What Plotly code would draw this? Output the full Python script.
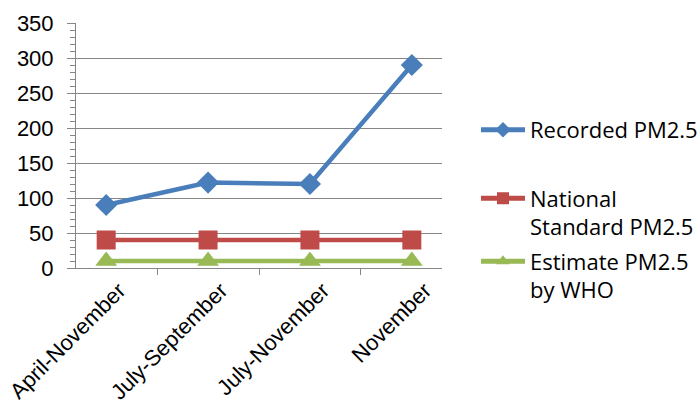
import plotly.graph_objects as go

categories = ["April-November", "July-September", "July-November", "November"]
recorded = [90, 122, 120, 290]
national = [40, 40, 40, 40]
who = [10, 10, 10, 10]
y_ticks = [0, 50, 100, 150, 200, 250, 300, 350]

names = ["Recorded PM2.5", "National<br>Standard PM2.5", "Estimate PM2.5<br>by WHO"]
colors = ["#4A7EBB", "#BE4B48", "#98B954"]
symbols = ["diamond", "square", "triangle-up"]
msizes = [17, 19, 19]
series = [recorded, national, who]
legends = ["legend", "legend2", "legend3"]

fig = go.Figure()
for vals, nm, c, s, ms, lg in zip(series, names, colors, symbols, msizes, legends):
    fig.add_trace(go.Scatter(
        x=categories, y=vals, name=nm, mode="lines+markers",
        line=dict(color=c, width=4.5),
        marker=dict(symbol=s, size=ms, color=c),
        legend=lg,
    ))

legfont = dict(family="Open Sans", size=22, color="#000000")
common = dict(xref="container", yref="container", xanchor="left", yanchor="middle",
              font=legfont, bgcolor="rgba(0,0,0,0)", valign="top",
              itemwidth=44, itemsizing="constant")
fig.update_layout(
    width=700, height=406,
    margin=dict(l=76, r=258, t=23, b=138),
    plot_bgcolor="white", paper_bgcolor="white",
    showlegend=True,
    legend=dict(x=476/700, y=1-130/406, **common),
    legend2=dict(x=476/700, y=1-213/406, **common),
    legend3=dict(x=476/700, y=1-276/406, **common),
    xaxis=dict(
        type="category", tickangle=-45, tickson="boundaries",
        ticks="outside", ticklen=6, tickcolor="#868686",
        showline=True, linecolor="#868686", linewidth=1,
        showgrid=False, automargin=False,
        ticklabelshift=13,
        tickfont=dict(family="Liberation Sans", size=22, color="#000000"),
    ),
    yaxis=dict(
        range=[0, 350], tickvals=y_ticks,
        ticks="outside", ticklen=8, tickcolor="#868686",
        showline=True, linecolor="#868686", linewidth=1,
        showgrid=True, gridcolor="#868686", gridwidth=1,
        zeroline=False, automargin=False,
        ticklabelstandoff=9,
        minor=dict(dtick=10, ticks="outside", ticklen=5, tickcolor="#868686", showgrid=False),
        tickfont=dict(family="Liberation Sans", size=22, color="#000000"),
    ),
)

fig.write_html("out.html")
